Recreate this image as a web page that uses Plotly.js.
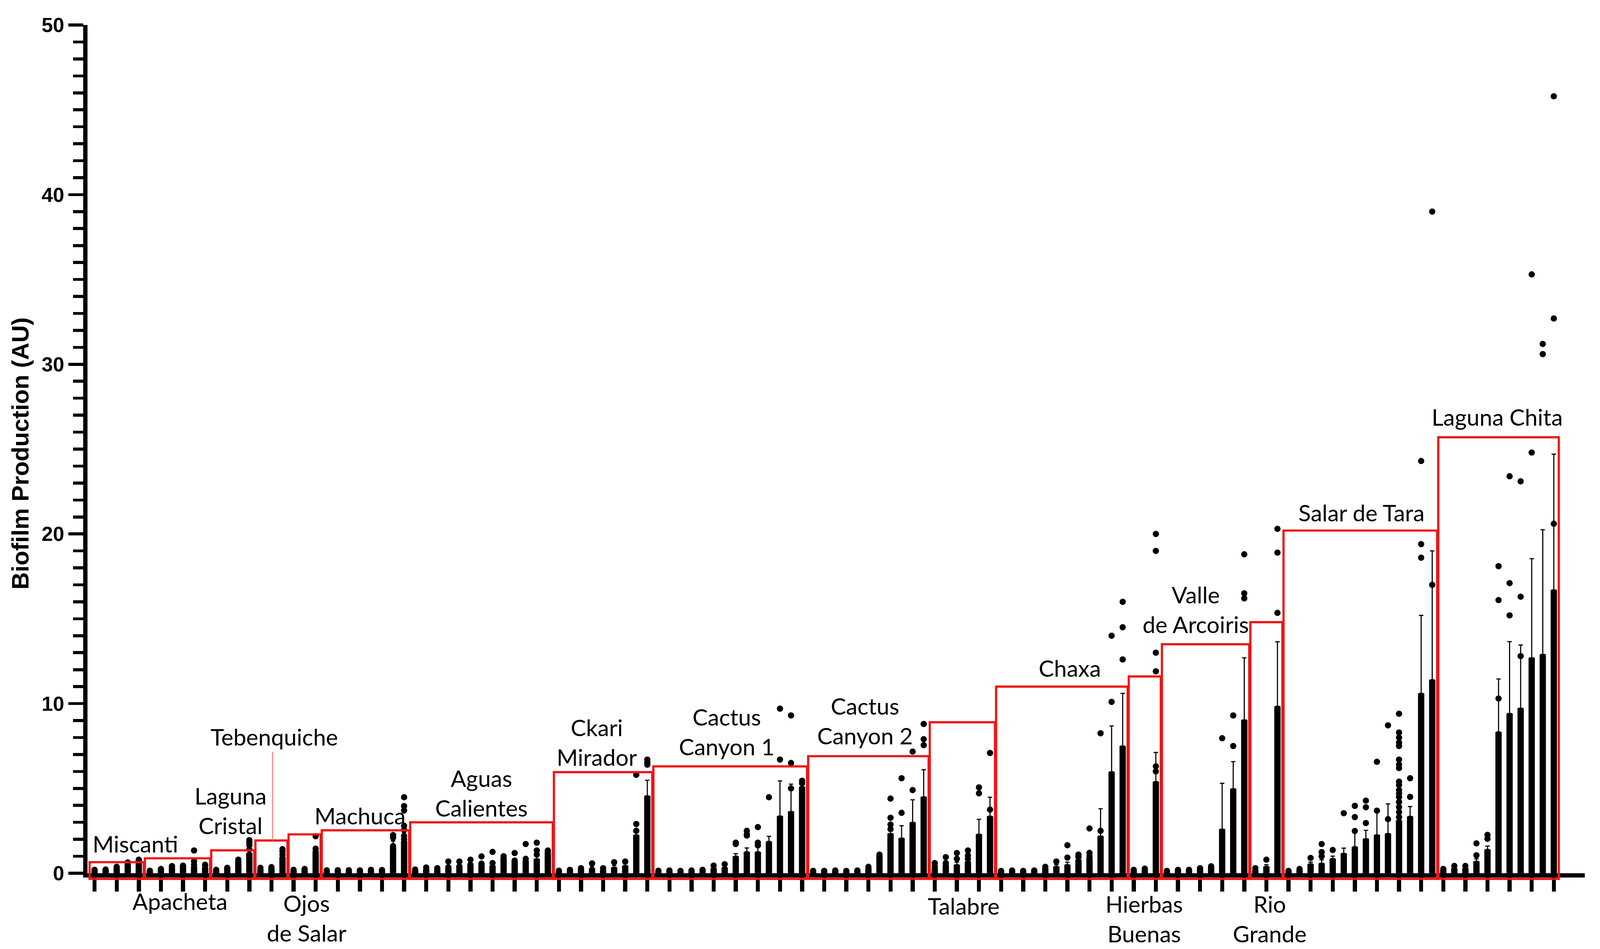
<!DOCTYPE html>
<html>
<head>
<meta charset="utf-8">
<script src="https://cdn.plot.ly/plotly-3.0.1.min.js"></script>
<style>
  html, body { margin: 0; padding: 0; background: #fff; overflow: hidden; }
  #chart { width: 100vw; height: 100vh; }
</style>
</head>
<body>
<div id="chart"></div>
<script>
/* global Plotly */

const groupNames = [
  'Miscanti', 'Apacheta', 'Laguna<br>Cristal', 'Tebenquiche', 'Ojos<br>de Salar', 'Machuca',
  'Aguas<br>Calientes', 'Ckari<br>Mirador', 'Cactus<br>Canyon 1', 'Cactus<br>Canyon 2', 'Talabre',
  'Chaxa', 'Hierbas<br>Buenas', 'Valle<br>de Arcoiris', 'Rio<br>Grande', 'Salar de Tara', 'Laguna Chita',
];
const groupSizes = [5, 6, 4, 3, 3, 8, 13, 9, 14, 11, 6, 12, 3, 8, 3, 14, 11];
// top of the red frame drawn round each site
const groupCeil = [0.65, 0.88, 1.35, 1.93, 2.29, 2.53, 3.0, 5.96, 6.3, 6.9, 8.9, 11.0, 11.6, 13.5, 14.8, 20.2, 25.7];

// mean biofilm per isolate, one line per site
const means = [
  0.15, 0.15, 0.25, 0.4, 0.5,
  0.1, 0.2, 0.3, 0.35, 0.4, 0.35,
  0.15, 0.25, 0.5, 1.2,
  0.25, 0.3, 0.9,
  0.15, 0.2, 1.2,
  0.12, 0.13, 0.13, 0.12, 0.15, 0.14, 1.5, 1.9,
  0.15, 0.25, 0.25, 0.3, 0.35, 0.45, 0.5, 0.45, 0.85, 0.7, 0.75, 0.85, 1.2,
  0.12, 0.15, 0.25, 0.3, 0.2, 0.35, 0.45, 2.26, 4.56,
  0.1, 0.12, 0.1, 0.12, 0.15, 0.3, 0.35, 1.0, 1.26, 1.26, 1.87, 3.37, 3.64, 5.1,
  0.1, 0.1, 0.12, 0.1, 0.12, 0.3, 1.05, 2.34, 2.07, 3.0, 4.5,
  0.3, 0.5, 0.5, 0.7, 2.3, 3.36,
  0.1, 0.12, 0.1, 0.12, 0.3, 0.4, 0.5, 0.8, 0.9, 2.19, 5.98, 7.5,
  0.15, 0.2, 5.4,
  0.1, 0.15, 0.15, 0.25, 0.35, 2.6, 4.98, 9.04,
  0.2, 0.4, 9.84,
  0.1, 0.2, 0.55, 0.59, 0.86, 1.17, 1.56, 2.03, 2.26, 2.34, 3.12, 3.35, 10.6, 11.4,
  0.2, 0.3, 0.3, 0.7, 1.4, 8.33, 9.42, 9.73, 12.7, 12.9, 16.7,
];

// upper error bar (SD)
const sds = [
  0.05, 0.05, 0.1, 0.1, 0.15,
  0.03, 0.05, 0.07, 0.07, 0.25, 0.1,
  0.04, 0.07, 0.15, 0.3,
  0.06, 0.07, 0.3,
  0.04, 0.05, 0.3,
  0.03, 0.03, 0.03, 0.03, 0.04, 0.03, 0.4, 0.5,
  0.04, 0.05, 0.05, 0.08, 0.08, 0.1, 0.1, 0.15, 0.15, 0.15, 0.15, 0.3, 0.2,
  0.03, 0.04, 0.05, 0.08, 0.05, 0.1, 0.1, 0.3, 0.92,
  0.03, 0.03, 0.03, 0.03, 0.04, 0.08, 0.1, 0.15, 0.23, 0.38, 0.31, 2.07, 1.61, 0.2,
  0.03, 0.03, 0.03, 0.03, 0.03, 0.06, 0.1, 0.5, 0.73, 1.33, 1.6,
  0.1, 0.1, 0.15, 0.2, 0.88, 1.12,
  0.03, 0.03, 0.03, 0.03, 0.05, 0.1, 0.15, 0.15, 0.2, 1.61, 2.7, 3.1,
  0.04, 0.05, 1.72,
  0.03, 0.04, 0.04, 0.05, 0.06, 2.7, 1.6, 3.66,
  0.05, 0.1, 3.8,
  0.03, 0.05, 0.1, 0.2, 0.15, 0.31, 0.93, 0.5, 1.43, 1.75, 0.3, 0.58, 4.6, 7.6,
  0.05, 0.08, 0.08, 0.15, 0.2, 3.12, 4.23, 3.72, 5.84, 7.35, 8.0,
];

// single replicates that stand out above each bar
const points = [
  [0.2, 0.15], [0.22, 0.18], [0.38, 0.3], [0.64, 0.5, 0.45], [0.8, 0.7, 0.55],
  [0.15], [0.25, 0.2], [0.42, 0.35], [0.45, 0.4], [1.34, 0.7, 0.5], [0.5, 0.45],
  [0.2], [0.32, 0.28], [0.8, 0.65, 0.55], [1.95, 1.8, 1.65, 1.4],
  [0.32], [0.36], [1.42, 1.3, 1.1, 0.9],
  [0.2], [0.25], [2.18, 1.45, 1.26],
  [0.17], [0.18], [0.18], [0.17], [0.2], [0.19], [2.25, 2.1, 1.6, 1.5], [4.48, 3.96, 3.7, 2.8, 2.55, 2.2, 2.0],
  [0.22], [0.34], [0.3], [0.69, 0.35], [0.69, 0.4], [0.8, 0.5], [0.99, 0.57], [1.26, 0.6], [1.0, 0.85],
  [1.19, 0.75], [1.72, 0.85], [1.8, 1.34, 1.1], [1.34, 1.25],
  [0.15], [0.2], [0.3], [0.58], [0.3], [0.65], [0.69], [5.8, 2.9, 2.5], [6.7, 6.55, 6.4],
  [0.15], [0.16], [0.14], [0.16], [0.2], [0.45], [0.53], [1.8, 1.72], [2.5, 2.3, 2.22], [2.72, 1.8, 1.64],
  [4.48], [9.7, 6.7], [9.3, 6.5, 5.0], [5.45, 5.3],
  [0.14], [0.14], [0.16], [0.14], [0.16], [0.38], [1.1], [4.4, 3.27, 2.87, 2.6], [5.6, 3.56], [7.17, 4.9],
  [8.8, 7.9, 7.55],
  [0.6, 0.4], [0.95, 0.6], [1.19, 0.85], [1.34, 1.05, 0.85], [5.06, 4.71], [7.09, 3.75],
  [0.14], [0.16], [0.14], [0.16], [0.38], [0.69], [1.65, 0.92], [1.1, 0.95], [2.64, 1.2, 1.0], [8.25, 2.5],
  [14.0, 10.1], [16.0, 14.5, 12.6],
  [0.2], [0.27], [20.0, 19.0, 13.0, 11.9, 6.3, 6.0],
  [0.14], [0.2], [0.2], [0.3], [0.41], [7.96], [9.3, 7.5], [18.8, 16.5, 16.2],
  [0.3], [0.8], [20.3, 18.9, 15.35],
  [0.14], [0.25], [0.9], [1.72, 1.25, 1.0], [1.37], [3.54], [3.97, 3.31, 2.49], [4.28, 3.89, 2.96],
  [6.57, 3.69], [8.72, 3.19],
  [9.4, 8.3, 8.0, 7.7, 7.5, 6.7, 6.4, 6.2, 5.4, 5.2, 4.9, 4.7, 4.5, 4.2, 3.9, 3.6, 3.3],
  [5.6, 4.5], [24.3, 19.4, 18.6], [39.0, 17.0],
  [0.25], [0.43], [0.43], [1.76, 1.06], [2.26, 2.03], [18.1, 16.1, 10.3], [23.4, 17.1, 15.2],
  [23.1, 16.3, 12.8], [35.3, 24.8], [31.2, 30.6], [45.8, 32.7, 20.6],
];

const Y_RANGE = [0, 50];
const X_RANGE = [-0.64, 134.8];
const BOX_FLOOR = -0.33;

// where each site name sits: [bar index, y value of the text centre]
const labelSpots = [
  [3.7, 1.75], [7.7, -1.63], [12.3, 3.7], [16.25, 8.05], [19.2, -2.62], [24.0, 3.4],
  [35.0, 4.74], [45.45, 7.73], [57.2, 8.35], [69.7, 9.0], [78.6, -1.9], [88.2, 12.1],
  [94.95, -2.68], [99.6, 15.56], [106.3, -2.68], [114.6, 21.27], [126.9, 26.9],
];

// the picture was laid out for 4328 x 2430; scale to whatever the window really is
const W = document.documentElement.clientWidth || 4328;
const H = document.documentElement.clientHeight || 2430;
const sx = W / 4328;
const sy = H / 2430;
const s = Math.min(sx, sy);

const RED = '#f01414';
const LABEL_FONT = { family: 'Lato, "Open Sans", sans-serif', size: 62 * s, color: '#000' };
const AXIS_FAMILY = '"Liberation Sans", Arial, sans-serif';

const xs = means.map((v, i) => i);
const dotX = [];
const dotY = [];
points.forEach((list, i) => {
  list.forEach((v) => {
    dotX.push(i);
    dotY.push(v);
  });
});

const paperY = (v) => (v - Y_RANGE[0]) / (Y_RANGE[1] - Y_RANGE[0]);

const groupStart = [];
groupSizes.reduce((acc, n) => {
  groupStart.push(acc);
  return acc + n;
}, 0);

// frames go in paper y so the bottom edge can dip under the axis
const shapes = groupSizes.map((n, g) => ({
  type: 'rect',
  xref: 'x',
  yref: 'paper',
  x0: groupStart[g] - 0.45,
  x1: groupStart[g] + n - 1 + 0.45,
  y0: paperY(BOX_FLOOR),
  y1: paperY(groupCeil[g]),
  line: { color: RED, width: 6 * s },
  fillcolor: 'rgba(0,0,0,0)',
}));

shapes.push({
  type: 'line',
  xref: 'x',
  yref: 'y',
  x0: 16.1,
  x1: 16.1,
  y0: groupCeil[3],
  y1: 7.15,
  line: { color: '#ff7070', width: 2.5 * s },
});

const annotations = groupNames.map((name, g) => ({
  text: name,
  xref: 'x',
  yref: 'paper',
  x: labelSpots[g][0],
  y: paperY(labelSpots[g][1]),
  xanchor: 'center',
  yanchor: 'middle',
  showarrow: false,
  font: LABEL_FONT,
}));

annotations.push({
  text: 'Biofilm Production (AU)',
  xref: 'paper',
  yref: 'paper',
  x: -0.045,
  y: 0.495,
  xanchor: 'center',
  yanchor: 'middle',
  textangle: -90,
  showarrow: false,
  font: { family: AXIS_FAMILY, size: 65 * s, color: '#000', weight: 'bold' },
});

const data = [
  {
    type: 'bar',
    x: xs,
    y: means,
    width: 0.57,
    marker: { color: '#000', line: { width: 0 } },
    error_y: {
      type: 'data',
      symmetric: false,
      array: sds,
      arrayminus: sds.map(() => 0),
      color: '#000',
      thickness: 3 * s,
      width: 6 * s,
    },
    hoverinfo: 'skip',
  },
  {
    type: 'scatter',
    mode: 'markers',
    x: dotX,
    y: dotY,
    marker: { color: '#000', size: 17 * s },
    cliponaxis: false,
    hoverinfo: 'skip',
  },
];

const layout = {
  width: W,
  height: H,
  margin: { l: 237 * sx, r: 41 * sx, t: 64 * sy, b: 194 * sy },
  paper_bgcolor: '#fff',
  plot_bgcolor: '#fff',
  showlegend: false,
  hovermode: false,
  xaxis: {
    range: X_RANGE,
    showline: true,
    linewidth: 12 * s,
    linecolor: '#000',
    ticks: 'outside',
    tickmode: 'array',
    tickvals: xs.filter((i) => i % 2 === 0),
    ticklen: 38 * s,
    tickwidth: 11 * s,
    tickcolor: '#000',
    showticklabels: false,
    showgrid: false,
    zeroline: false,
  },
  yaxis: {
    range: Y_RANGE,
    showline: true,
    linewidth: 12 * s,
    linecolor: '#000',
    ticks: 'outside',
    tick0: 0,
    dtick: 10,
    ticklen: 40 * s,
    tickwidth: 8 * s,
    tickcolor: '#000',
    tickfont: { family: AXIS_FAMILY, size: 55 * s, color: '#000', weight: 'bold' },
    minor: {
      ticks: 'outside',
      dtick: 1,
      ticklen: 27 * s,
      tickwidth: 8 * s,
      tickcolor: '#000',
      showgrid: false,
    },
    showgrid: false,
    zeroline: false,
  },
  shapes,
  annotations,
};

Plotly.newPlot('chart', data, layout, { displayModeBar: false, staticPlot: true });
</script>
</body>
</html>
